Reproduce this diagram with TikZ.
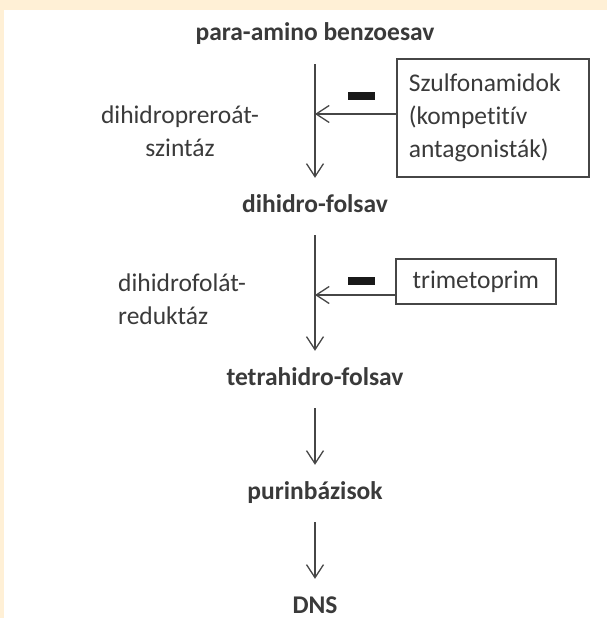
\documentclass[tikz,border=0pt]{standalone}
\usepackage{fontspec}
\setmainfont{Carlito}[Ligatures=NoCommon]
\usetikzlibrary{arrows.meta}
\definecolor{keret}{RGB}{255,240,214}
\definecolor{szoveg}{RGB}{58,58,58}
\definecolor{vonal}{RGB}{70,70,70}
\tikzset{
  anyag/.style={font=\fontsize{25.5}{30}\selectfont\bfseries, text=szoveg, text height=18pt, text depth=5pt, inner sep=0pt, anchor=base},
  enzim/.style={font=\fontsize{25.5}{33}\selectfont, text=szoveg, inner sep=0pt},
  doboz/.style={draw=vonal, line width=1.6pt, font=\fontsize{25.5}{33}\selectfont, text=szoveg, anchor=north west},
  lepes/.style={draw=vonal, line width=1.3pt, -{Straight Barb[length=13pt,width=17pt]}, shorten <=18pt, shorten >=16pt},
  gatol/.style={draw=vonal, line width=1.3pt, -{Straight Barb[length=13pt,width=17pt]}},
  minusz/.style={fill=black!90, minimum width=27pt, minimum height=8pt, inner sep=0pt}
}
\begin{document}
\begin{tikzpicture}[x=1pt,y=-1pt]
        % frame
        \fill[keret] (0,0) rectangle (607,618);
        \fill[white] (4,10) rectangle (607,618);
        \useasboundingbox (0,0) rectangle (607,618);
        % substances
        \node[anyag] (pab) at (315,41) {para-amino benzoesav};
        \node[anyag] (dhf) at (315,212) {dihidro-folsav};
        \node[anyag] (thf) at (315,385) {tetrahidro-folsav};
        \node[anyag] (pur) at (315,499) {purinbázisok};
        \node[anyag] (dns) at (315,613) {DNS};
        % enzymes
        \node[enzim, align=center] (dps) at (180,131) {dihidropreroát-\\szintáz};
        \node[enzim, align=left, anchor=west] (dfr) at (118,299) {dihidrofolát-\\reduktáz};
        % inhibitors
        \node[doboz, text width=168pt, inner xsep=12pt, minimum height=118pt, align=left] (szulf) at (396,58) {Szulfonamidok\\(kompetitív\\antagonisták)};
        \node[doboz, minimum width=160pt, minimum height=45pt] (trim) at (395,258) {trimetoprim};
        \coordinate (g1) at (315,114);
        \coordinate (g2) at (315,295);
        \draw[gatol] (g1 -| szulf.west) -- (g1);
        \draw[gatol] (g2 -| trim.west) -- (g2);
        \node[minusz] (m1) at (361,96) {};
        \node[minusz] (m2) at (361,281) {};
        % steps
        \draw[lepes] (pab) -- (dhf);
        \draw[lepes] (dhf) -- (thf);
        \draw[lepes] (thf) -- (pur);
        \draw[lepes] (pur) -- (dns);
\end{tikzpicture}
\end{document}
